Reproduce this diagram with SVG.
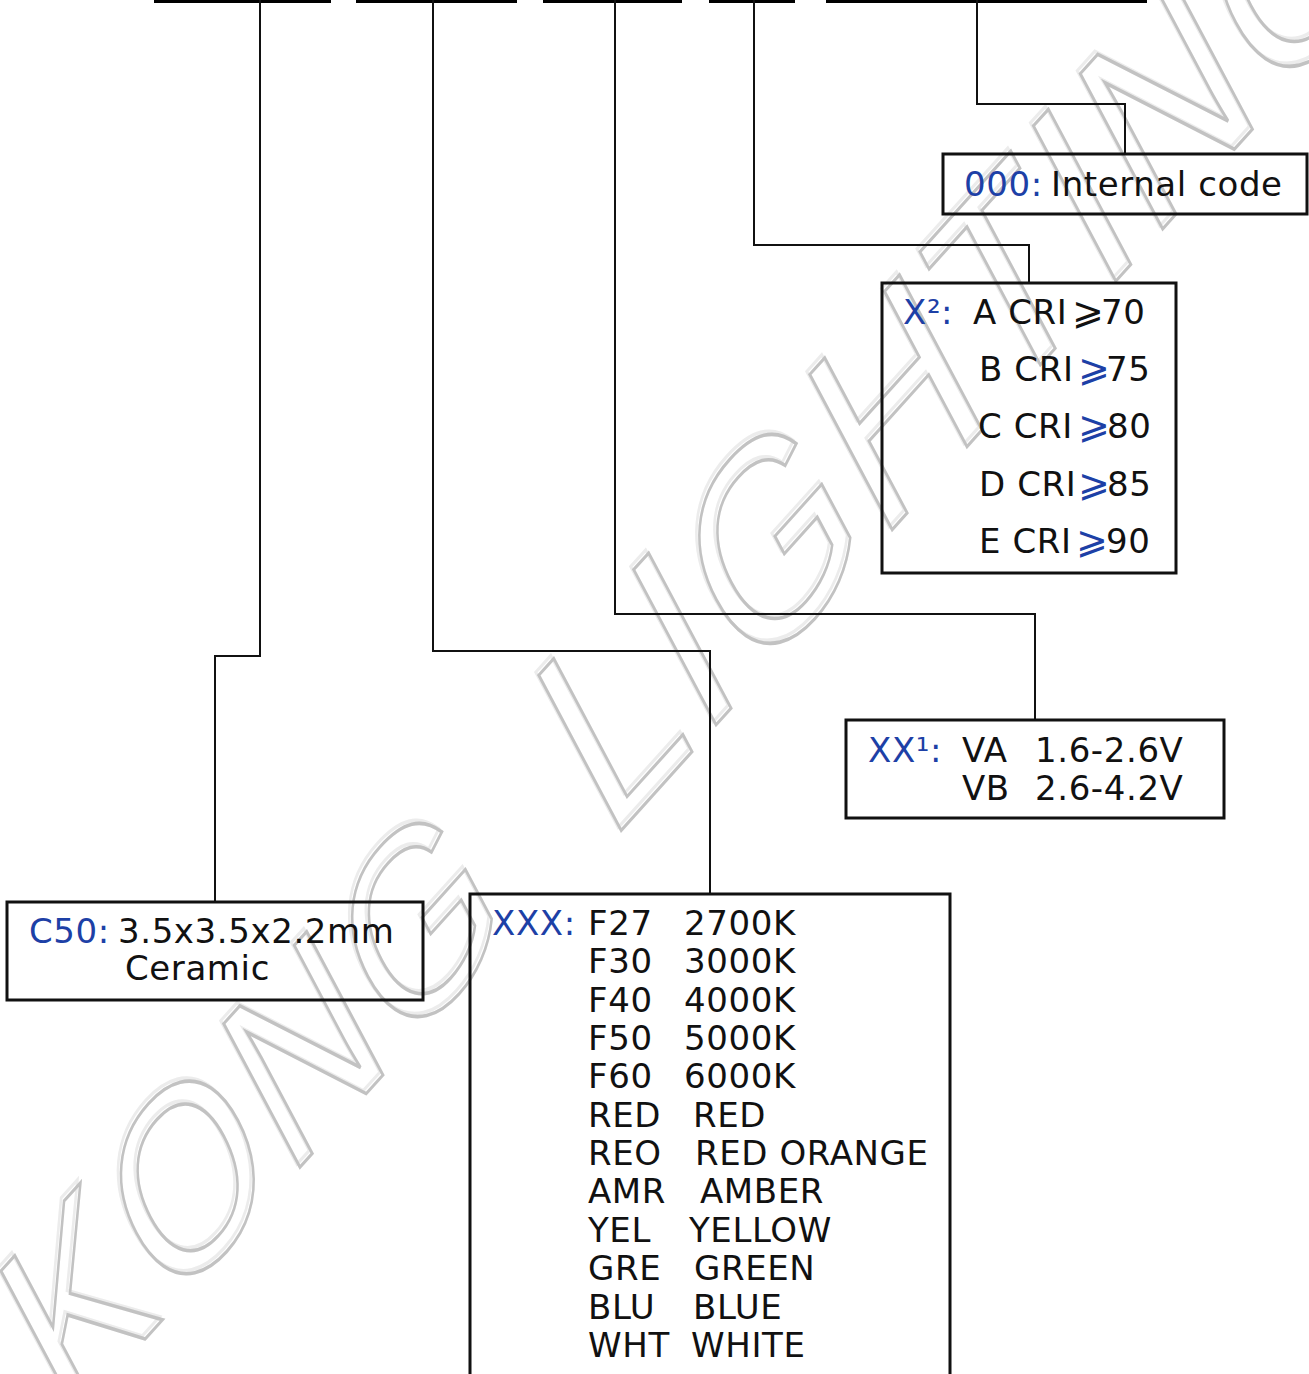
<svg xmlns="http://www.w3.org/2000/svg" width="1309" height="1374" viewBox="0 0 1309 1374">
<style>
.t{font-family:"DejaVu Sans","Liberation Sans",sans-serif;font-size:34px;letter-spacing:0.6px;fill:#111}
.b{fill:#1d40a6}
.ge{font-size:38px;letter-spacing:0}
.box{fill:none;stroke:#111;stroke-width:3}
.ln{fill:none;stroke:#111;stroke-width:2}
.wm{font-family:"Liberation Sans",Arial,sans-serif;fill:none;stroke-width:3}
.w1{font-size:222px;letter-spacing:6px}
.w2{font-size:240px;letter-spacing:6px}
.hl{stroke:#ececec}
.sh{stroke:#c2c2c2}
</style>
<rect width="1309" height="1374" fill="#fff"/>
<g id="watermark">
<text class="wm w1 hl" transform="translate(62,1425) rotate(-48) skewX(-20)">KONG</text>
<text class="wm w1 sh" transform="translate(65,1428) rotate(-48) skewX(-20)">KONG</text>
<text class="wm w2 hl" transform="translate(605,842) rotate(-48) skewX(-20)">LIGHTING</text>
<text class="wm w2 sh" transform="translate(608,845) rotate(-48) skewX(-20)">LIGHTING</text>
</g>
<g id="bars" fill="#000">
<rect x="154" y="0" width="177" height="3"/>
<rect x="356" y="0" width="161" height="3"/>
<rect x="543" y="0" width="139" height="3"/>
<rect x="709" y="0" width="86" height="3"/>
<rect x="826" y="0" width="321" height="3"/>
</g>
<g id="connectors">
<path class="ln" d="M260,0 V656 H215 V902"/>
<path class="ln" d="M433,0 V651 H710 V893"/>
<path class="ln" d="M615,0 V614 H1035 V720"/>
<path class="ln" d="M754,0 V245 H1029 V283"/>
<path class="ln" d="M977,0 V104 H1125 V154"/>
</g>
<g id="node-internal">
<rect class="box" x="943" y="154" width="364" height="60"/>
<text class="t" y="196"><tspan class="b" x="964">000:</tspan><tspan x="1051">Internal code</tspan></text>
</g>
<g id="node-cri">
<rect class="box" x="882" y="283" width="294" height="290"/>
<text class="t" y="324"><tspan class="b" x="903">X²:</tspan><tspan x="973">A CRI</tspan><tspan class="ge" x="1072">⩾</tspan><tspan x="1101">70</tspan></text>
<text class="t" y="381"><tspan x="979">B CRI</tspan><tspan class="b ge" x="1078">⩾</tspan><tspan x="1106">75</tspan></text>
<text class="t" y="438"><tspan x="978">C CRI</tspan><tspan class="b ge" x="1078">⩾</tspan><tspan x="1107">80</tspan></text>
<text class="t" y="496"><tspan x="979">D CRI</tspan><tspan class="b ge" x="1078">⩾</tspan><tspan x="1107">85</tspan></text>
<text class="t" y="553"><tspan x="979">E CRI</tspan><tspan class="b ge" x="1076">⩾</tspan><tspan x="1106">90</tspan></text>
</g>
<g id="node-voltage">
<rect class="box" x="846" y="720" width="378" height="98"/>
<text class="t" y="762"><tspan class="b" x="868">XX¹:</tspan><tspan x="962">VA</tspan><tspan x="1035">1.6-2.6V</tspan></text>
<text class="t" y="800"><tspan x="962">VB</tspan><tspan x="1035">2.6-4.2V</tspan></text>
</g>
<g id="node-package">
<rect class="box" x="7" y="902" width="416" height="98"/>
<text class="t" y="943"><tspan class="b" x="29">C50:</tspan><tspan x="118">3.5x3.5x2.2mm</tspan></text>
<text class="t" x="125" y="980">Ceramic</text>
</g>
<g id="node-color">
<rect class="box" x="470" y="894" width="480" height="500"/>
<text class="t b" x="492" y="935">XXX:</text>
<text class="t" y="935"><tspan x="588">F27</tspan><tspan x="684">2700K</tspan></text>
<text class="t" y="973"><tspan x="588">F30</tspan><tspan x="684">3000K</tspan></text>
<text class="t" y="1012"><tspan x="588">F40</tspan><tspan x="684">4000K</tspan></text>
<text class="t" y="1050"><tspan x="588">F50</tspan><tspan x="684">5000K</tspan></text>
<text class="t" y="1088"><tspan x="588">F60</tspan><tspan x="684">6000K</tspan></text>
<text class="t" y="1127"><tspan x="588">RED</tspan><tspan x="693">RED</tspan></text>
<text class="t" y="1165"><tspan x="588">REO</tspan><tspan x="695">RED ORANGE</tspan></text>
<text class="t" y="1203"><tspan x="588">AMR</tspan><tspan x="700">AMBER</tspan></text>
<text class="t" y="1242"><tspan x="588">YEL</tspan><tspan x="689">YELLOW</tspan></text>
<text class="t" y="1280"><tspan x="588">GRE</tspan><tspan x="694">GREEN</tspan></text>
<text class="t" y="1319"><tspan x="588">BLU</tspan><tspan x="693">BLUE</tspan></text>
<text class="t" y="1357"><tspan x="588">WHT</tspan><tspan x="691">WHITE</tspan></text>
</g>
</svg>
